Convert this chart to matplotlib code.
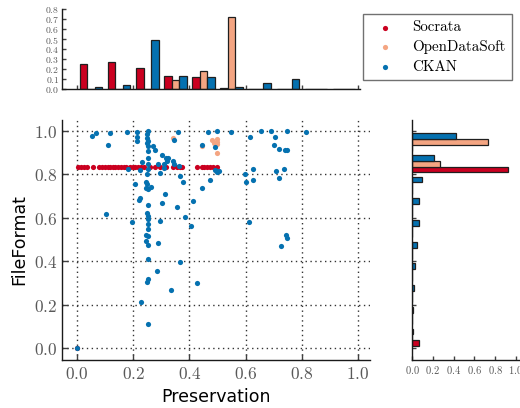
import matplotlib
matplotlib.use("Agg")
import matplotlib.pyplot as plt
from matplotlib.ticker import FixedLocator, FuncFormatter
import numpy as np

plt.rcParams['axes.formatter.use_mathtext'] = True
plt.rcParams['mathtext.fontset'] = 'cm'

# ---------------- data ----------------
names = ["Socrata", "OpenDataSoft", "CKAN"]
colors = ["#ca0020", "#f4a582", "#0571b0"]

soc_x = [0.0, 0.002, 0.014, 0.026, 0.036, 0.056, 0.08, 0.09, 0.1, 0.109, 0.118, 0.128,
         0.137, 0.147, 0.156, 0.166, 0.175, 0.189, 0.199, 0.208, 0.218, 0.227, 0.237,
         0.26, 0.278, 0.296, 0.317, 0.343, 0.355, 0.367, 0.373, 0.426, 0.444, 0.452,
         0.462, 0.473, 0.483, 0.497]
soc_y = [0.0, 0.833, 0.833, 0.833, 0.833, 0.833, 0.833, 0.833, 0.833, 0.833, 0.833, 0.833,
         0.833, 0.833, 0.833, 0.833, 0.833, 0.833, 0.833, 0.833, 0.833, 0.833, 0.833,
         0.833, 0.833, 0.833, 0.833, 0.833, 0.833, 0.833, 0.833, 0.833, 0.833, 0.833,
         0.833, 0.833, 0.833, 0.833]

ods_x = [0.343, 0.444, 0.479, 0.497, 0.497, 0.488, 0.497, 0.5]
ods_y = [0.966, 0.931, 0.957, 0.962, 0.942, 0.946, 0.9, 0.951]

ckan_x = [0.0, 0.054, 0.068, 0.116, 0.112, 0.177, 0.215, 0.214, 0.214,
          0.251, 0.25, 0.25, 0.254, 0.25, 0.254, 0.271, 0.276, 0.252, 0.253,
          0.304, 0.316, 0.325, 0.32, 0.34, 0.31,
          0.358, 0.344, 0.233, 0.252, 0.29, 0.346, 0.364,
          0.183, 0.223, 0.254, 0.31, 0.295, 0.248, 0.368, 0.376,
          0.205, 0.245, 0.25, 0.254, 0.262, 0.245, 0.314,
          0.224, 0.221, 0.301, 0.252, 0.357, 0.414,
          0.25, 0.254, 0.252, 0.104, 0.386, 0.195, 0.253, 0.295, 0.405, 0.253, 0.245, 0.252,
          0.445, 0.473, 0.445, 0.468, 0.498,
          0.499, 0.548, 0.49, 0.49, 0.5, 0.506,
          0.654, 0.689, 0.749, 0.815, 0.615, 0.705, 0.7, 0.719, 0.742, 0.748,
          0.626, 0.71, 0.738, 0.599, 0.6, 0.626, 0.718, 0.613, 0.744, 0.748, 0.726,
          0.244, 0.251, 0.289, 0.251, 0.365, 0.283, 0.251, 0.248, 0.426, 0.333, 0.229, 0.251]
ckan_y = [0.0, 0.977, 0.989, 0.989, 0.934, 0.998, 0.998, 0.974, 0.954,
          1.0, 0.985, 0.97, 0.954, 0.943, 0.93, 0.931, 0.915, 0.906, 0.874,
          0.888, 0.877, 0.877, 0.86, 0.86, 0.85,
          0.995, 0.958, 0.857, 0.849, 0.849, 0.846, 0.838,
          0.826, 0.82, 0.823, 0.83, 0.808, 0.8, 0.792, 0.766,
          0.754, 0.765, 0.754, 0.731, 0.742, 0.738, 0.712,
          0.692, 0.682, 0.669, 0.658, 0.649, 0.677,
          0.623, 0.608, 0.597, 0.618, 0.606, 0.583, 0.572, 0.585, 0.562, 0.549, 0.523, 0.515,
          0.738, 0.774, 0.934, 0.998, 0.815,
          1.0, 0.997, 0.925, 0.82, 0.812, 0.817,
          1.0, 1.0, 1.0, 0.997, 0.971, 0.971, 0.937, 0.917, 0.914, 0.915,
          0.823, 0.818, 0.826, 0.802, 0.766, 0.775, 0.782, 0.582, 0.52, 0.509, 0.469,
          0.495, 0.477, 0.486, 0.411, 0.398, 0.355, 0.317, 0.306, 0.3, 0.266, 0.211, 0.112]

# histogram bins and (normalised) heights
bin_edges = [0.0, 0.1, 0.2, 0.3, 0.4, 0.5, 0.6, 0.7, 0.8, 0.9, 1.0]
soc_top = [0.25, 0.27, 0.21, 0.13, 0.12, 0.01, 0.0, 0.0, 0.0, 0.0]
ods_top = [0.0, 0.0, 0.0, 0.09, 0.18, 0.72, 0.0, 0.0, 0.0, 0.0]
ckan_top = [0.02, 0.04, 0.49, 0.13, 0.12, 0.02, 0.06, 0.10, 0.005, 0.0]

soc_right = [0.07, 0.0, 0.0, 0.0, 0.0, 0.0, 0.0, 0.0, 0.92, 0.0]
ods_right = [0.0, 0.0, 0.0, 0.0, 0.0, 0.0, 0.0, 0.0, 0.27, 0.73]
ckan_right = [0.005, 0.005, 0.02, 0.03, 0.05, 0.07, 0.07, 0.10, 0.21, 0.42]

main_ticks = [0.0, 0.2, 0.4, 0.6, 0.8, 1.0]
top_yticks = [0.0, 0.1, 0.2, 0.3, 0.4, 0.5, 0.6, 0.7, 0.8]

# ---------------- figure ----------------
W, H = 520, 408
fig = plt.figure(figsize=(W / 100, H / 100), dpi=100)

def box(l, t, r, b):
    return [l / W, 1 - b / H, (r - l) / W, (b - t) / H]

ax = fig.add_axes(box(62, 120, 370, 360))
ax_top = fig.add_axes(box(62, 9, 360, 89))
ax_right = fig.add_axes(box(412, 120, 520, 360))

tick_col = '0.35'
mfmt = FuncFormatter(lambda v, p: r'$%.1f$' % v)

def style(a, fs):
    for s in ['top', 'right']:
        a.spines[s].set_visible(False)
    for s in ['left', 'bottom']:
        a.spines[s].set_linewidth(1.0)
        a.spines[s].set_color('0.1')
    a.tick_params(direction='in', length=4, width=1, colors='0.25',
                  labelcolor=tick_col, labelsize=fs)

# main scatter
for xs, ys, c, n in zip([soc_x, ods_x, ckan_x], [soc_y, ods_y, ckan_y], colors, names):
    ax.scatter(xs, ys, s=14, color=c, linewidths=0, label=n, zorder=3)
ax.set_xlim(-0.0534, 1.043)
ax.set_ylim(-0.055, 1.051)
ax.xaxis.set_major_locator(FixedLocator(main_ticks))
ax.yaxis.set_major_locator(FixedLocator(main_ticks))
ax.xaxis.set_major_formatter(mfmt)
ax.yaxis.set_major_formatter(mfmt)
ax.grid(True, linestyle=(0, (1, 2.5)), color='0.2', linewidth=1.0)
style(ax, 12.5)
ax.set_xlabel("Preservation", fontsize=12.5, labelpad=4)
ax.set_ylabel("FileFormat", fontsize=12.5, labelpad=4)

centers = [0.5 * (bin_edges[i] + bin_edges[i + 1]) for i in range(len(bin_edges) - 1)]

# top histogram
ax_top.hist([centers, centers, centers], bins=bin_edges,
            weights=[soc_top, ods_top, ckan_top], color=colors,
            edgecolor='0.12', linewidth=0.9)
ax_top.set_xlim(-0.0534, 1.007)
ax_top.set_ylim(0, 0.8)
ax_top.xaxis.set_major_locator(FixedLocator(main_ticks))
ax_top.yaxis.set_major_locator(FixedLocator(top_yticks))
ax_top.yaxis.set_major_formatter(mfmt)
ax_top.set_xticklabels([])
style(ax_top, 7.0)
ax_top.tick_params(length=3, pad=2)

# right histogram
ax_right.hist([centers, centers, centers], bins=bin_edges,
              weights=[soc_right, ods_right, ckan_right], color=colors,
              edgecolor='0.12', linewidth=0.9, orientation='horizontal')
ax_right.set_ylim(-0.055, 1.051)
ax_right.set_xlim(0, 1.04)
ax_right.yaxis.set_major_locator(FixedLocator(main_ticks))
ax_right.xaxis.set_major_locator(FixedLocator(main_ticks))
ax_right.xaxis.set_major_formatter(mfmt)
ax_right.set_yticklabels([])
style(ax_right, 7.6)
ax_right.tick_params(length=3, pad=3)

# legend
handles, labels = ax.get_legend_handles_labels()
leg = fig.legend(handles, labels, loc='upper left',
                 bbox_to_anchor=(363 / W, 1 - 14 / H),
                 frameon=True, fancybox=False, borderaxespad=0,
                 prop={'family': 'cmr10', 'size': 10.8}, scatterpoints=1,
                 labelspacing=0.38, handletextpad=0.8, borderpad=0.45)
leg.get_frame().set_edgecolor('0.3')
leg.get_frame().set_linewidth(1.0)

fig.savefig("out.png", dpi=100)
